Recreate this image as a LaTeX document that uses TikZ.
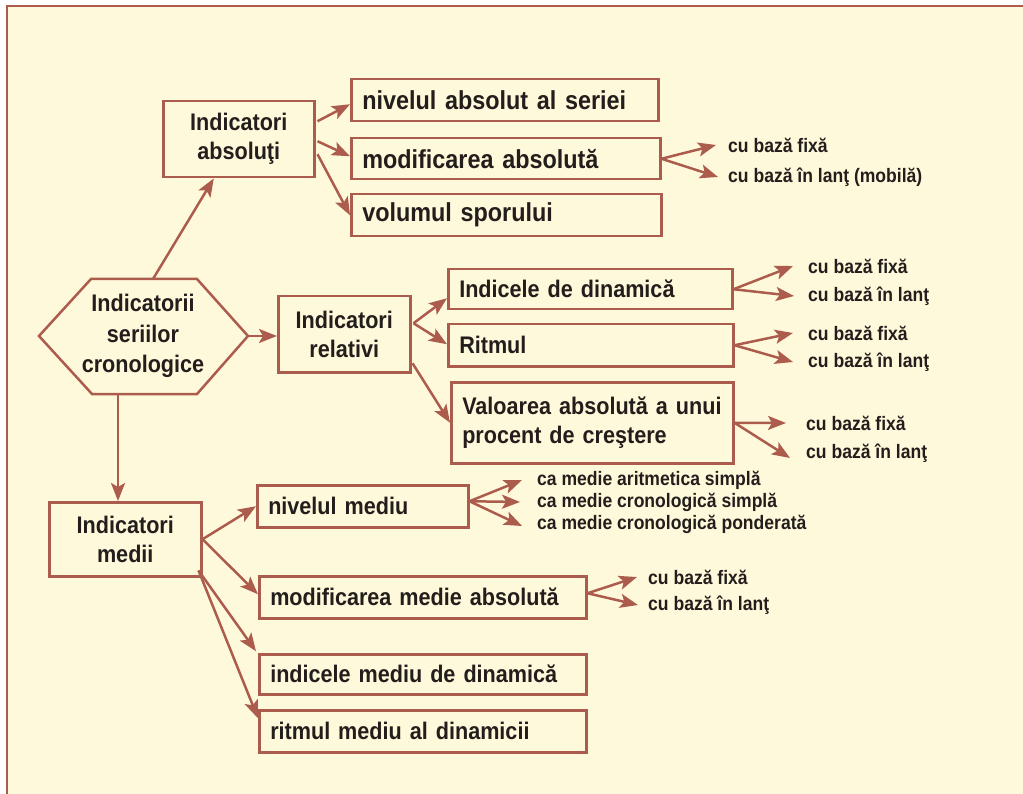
\documentclass[tikz,border=0pt]{standalone}
\usepackage{fontspec}
\setmainfont{Liberation Sans}[FakeStretch=0.9]
\usetikzlibrary{arrows.meta,calc}
\definecolor{cream}{RGB}{255,249,220}
\definecolor{brick}{RGB}{172,92,76}
\definecolor{ink}{RGB}{35,30,28}

\begin{document}
\begin{tikzpicture}[x=1pt,y=-1pt,
  bigtext/.style={font=\fontsize{24}{29}\selectfont\bfseries, text=ink},
  largetext/.style={font=\fontsize{26}{29}\selectfont\bfseries},
  smalltext/.style={font=\fontsize{19.5}{21}\selectfont\bfseries, text=ink, anchor=west, inner sep=0pt},
  box/.style={draw=brick, line width=2.5pt, bigtext, inner ysep=0pt, inner xsep=11pt, anchor=north west},
  cbox/.style 2 args={box, align=center, minimum width=#1, minimum height=#2},
  lbox/.style 2 args={box, align=left, text width=#1, minimum height=#2},
  arr/.style={draw=brick, line width=2.5pt, -{Stealth[length=18pt,width=14pt,inset=4pt]}}
]
% page and frame
\useasboundingbox (0,0) rectangle (1023,794);
\fill[white] (0,0) rectangle (1023,794);
\fill[cream] (7,6) rectangle (1023,794);
\draw[brick, line width=2.5pt] (7,794) -- (7,6) -- (1023,6);

% central hexagon
\coordinate (h1) at (39,336);
\coordinate (h2) at (91,279);
\coordinate (h3) at (197,279);
\coordinate (hexR) at (248,336);
\coordinate (h5) at (197,394);
\coordinate (h6) at (92,394);
\coordinate (hexT) at (153,279);
\coordinate (hexB) at (118,394);
\draw[brick, line width=2.5pt, line join=miter] (h1) -- (h2) -- (h3) -- (hexR) -- (h5) -- (h6) -- cycle;
\node[bigtext, align=center, font=\fontsize{24}{30.5}\selectfont\bfseries] (hex) at (143,336) {Indicatorii\\seriilor\\cronologice};

% first level
\node[cbox={151}{76}] (abs) at (162,100) {Indicatori\\absoluţi};
\node[cbox={132}{76}] (rel) at (277,295) {Indicatori\\relativi};
\node[cbox={152}{74}] (med) at (48,501) {Indicatori\\medii};

% absolute indicators
\node[lbox={285}{42}, largetext] (niv) at (350,78) {\mbox{nivelul absolut al seriei}};
\node[lbox={287}{41}, largetext] (mod) at (350,137) {\mbox{modificarea absolută}};
\node[lbox={288}{42}, largetext] (vol) at (350,193) {\mbox{volumul sporului}};

% relative indicators
\node[lbox={262}{40}] (ind) at (447,268) {\mbox{Indicele de dinamică}};
\node[lbox={263}{42}] (rit) at (447,323) {\mbox{Ritmul}};
\node[lbox={260}{81}] (val) at (450,381) {\mbox{Valoarea absolută a unui}\\\mbox{procent de creştere}};

% average indicators
\node[lbox={189}{42}] (nmed) at (256,484) {\mbox{nivelul mediu}};
\node[lbox={305}{42}] (mma) at (258,575) {\mbox{modificarea medie absolută}};
\node[lbox={305}{40}] (imd) at (258,653) {\mbox{indicele mediu de dinamică}};
\node[lbox={305}{42}] (rmd) at (258,709) {\mbox{ritmul mediu al dinamicii}};

% side labels
\node[smalltext] (m1) at (728,145) {cu bază fixă};
\node[smalltext] (m2) at (728,177) {cu bază în lanţ (mobilă)};
\node[smalltext] (d1) at (808,266) {cu bază fixă};
\node[smalltext] (d2) at (808,296) {cu bază în lanţ};
\node[smalltext] (r1) at (808,333) {cu bază fixă};
\node[smalltext] (r2) at (808,362) {cu bază în lanţ};
\node[smalltext] (v1) at (806,423) {cu bază fixă};
\node[smalltext] (v2) at (806,453) {cu bază în lanţ};
\node[smalltext] (n1) at (537,480) {ca medie aritmetica simplă};
\node[smalltext] (n2) at (537,502) {ca medie cronologică simplă};
\node[smalltext] (n3) at (537,524) {ca medie cronologică ponderată};
\node[smalltext] (c1) at (648,577) {cu bază fixă};
\node[smalltext] (c2) at (648,605) {cu bază în lanţ};

% connectors from the hexagon
\draw[arr] (hexT) -- ([xshift=-25pt]abs.south);
\draw[arr] (hexR) -- (hexR -| rel.west);
\draw[arr] (hexB) -- (hexB |- med.north);

% absolute branch
\draw[arr] ([xshift=2pt,yshift=18pt]abs.east) -- ([yshift=-4pt]niv.west);
\draw[arr] ([xshift=2pt,yshift=-2pt]abs.east) -- ([yshift=2.5pt]mod.west);
\draw[arr] ([xshift=2pt,yshift=-15pt]abs.east) -- (vol.west);
\draw[arr] (mod.east) -- ([xshift=-12pt]m1.west);
\draw[arr] (mod.east) -- ([xshift=-10pt]m2.west);

% relative branch
\draw[arr] ([xshift=2pt,yshift=11pt]rel.east) -- ([yshift=-9pt]ind.west);
\draw[arr] ([xshift=2pt,yshift=11pt]rel.east) -- ([yshift=1pt]rit.west);
\draw[arr] ([xshift=1pt,yshift=-29pt]rel.east) -- (val.west);
\draw[arr] (ind.east) -- ([xshift=-15pt]d1.west);
\draw[arr] (ind.east) -- ([xshift=-14pt]d2.west);
\draw[arr] (rit.east) -- ([xshift=-15pt]r1.west);
\draw[arr] (rit.east) -- ([xshift=-15pt]r2.west);
\draw[arr] (val.east) -- ([xshift=-20pt]v1.west);
\draw[arr] (val.east) -- ([xshift=-16pt,yshift=-5pt]v2.west);

% average branch
\draw[arr] (med.east) -- (nmed.west);
\draw[arr] (med.east) -- ([yshift=3pt]mma.west);
\draw[arr] ([xshift=-4pt,yshift=7pt]med.south east) -- ([xshift=-2pt,yshift=23pt]imd.west);
\draw[arr] ([xshift=-4pt,yshift=7pt]med.south east) -- ([yshift=13pt]rmd.west);
\draw[arr] ([yshift=5pt]nmed.east) -- ([xshift=-15pt]n1.west);
\draw[arr] ([yshift=5pt]nmed.east) -- ([xshift=-17pt]n2.west);
\draw[arr] ([yshift=5pt]nmed.east) -- ([xshift=-15pt,yshift=-2pt]n3.west);
\draw[arr] ([yshift=4pt]mma.east) -- ([xshift=-11pt]c1.west);
\draw[arr] ([yshift=4pt]mma.east) -- ([xshift=-10pt]c2.west);
\end{tikzpicture}
\end{document}
